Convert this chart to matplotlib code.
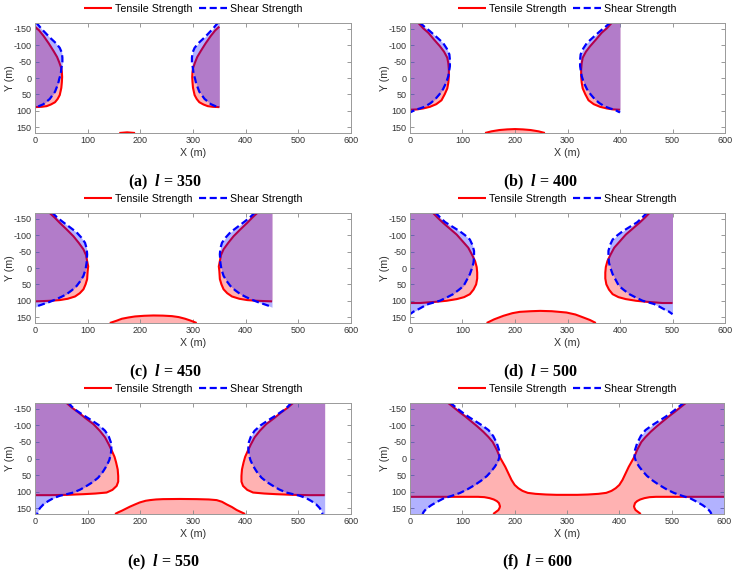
import numpy as np
import matplotlib
matplotlib.use("Agg")
import matplotlib.pyplot as plt

plt.rcParams["font.family"] = ["Liberation Sans", "DejaVu Sans"]
plt.rcParams["axes.unicode_minus"] = False
plt.rcParams["mathtext.fontset"] = "custom"
plt.rcParams["mathtext.it"] = "Liberation Serif:italic:bold"
plt.rcParams["mathtext.rm"] = "Liberation Serif:bold"

# tunnel spacing l (m) of each panel
widths = [350, 400, 450, 500, 550, 600]
labels = ["(a)", "(b)", "(c)", "(d)", "(e)", "(f)"]

# left failure boundaries (the right one is the mirror x -> l - x)
# (a) l = 350
tens_x_a = [0, 8, 16, 26, 35, 42, 46, 50, 51, 51.5, 51, 50, 47, 43, 38, 30, 22, 12, 0]
tens_y_a = [-157, -145, -129, -106, -83, -64, -48, -30, -18, -3, 12, 30, 52, 64, 74, 81, 86, 88, 89]
shear_x_a = [2, 13, 28, 40, 47, 51, 52, 52, 50, 49, 46, 44, 38, 28, 16, 6, 0]
shear_y_a = [-170, -149, -124, -106, -92, -77, -62, -48, -28, -13, 3, 17, 42, 64, 80, 87, 89]
bot_x_a = [160, 175, 190]
bot_y_a = [168, 166, 168]

# (b) l = 400
tens_x_b = [16, 25, 35, 46, 57, 65, 71, 73, 74, 74, 73, 71, 66, 60, 50, 38, 25, 13, 0]
tens_y_b = [-168, -152, -138, -117, -97, -80, -62, -45, -26, -5, 14, 32, 50, 68, 80, 88, 93, 96, 97]
shear_x_b = [18, 28, 38, 50, 63, 70, 75, 76, 76, 73, 69, 63, 56, 48, 39, 29, 19, 10, 3, 0]
shear_y_b = [-170, -156, -143, -126, -107, -90, -72, -55, -36, -6, 14, 34, 50, 65, 77, 87, 93, 97, 103, 105]
bot_x_b = [143, 155, 170, 185, 200, 215, 230, 245, 257]
bot_y_b = [168, 163, 159, 157, 156, 157, 159, 163, 168]

# (c) l = 450
tens_x_c = [28, 38, 47, 60, 73, 83, 92, 97, 99, 101, 100, 99, 96, 92, 85, 76, 62, 47, 30, 16, 0]
tens_y_c = [-168, -153, -138, -118, -97, -77, -57, -39, -21, -5, 9, 34, 50, 65, 77, 87, 94, 98, 100, 101, 102]
shear_x_c = [32, 41, 51, 65, 79, 88, 95, 98, 99, 98, 96, 92, 86, 79, 70, 60, 49, 38, 27, 16, 7, 0]
shear_y_c = [-170, -156, -143, -126, -109, -93, -77, -60, -42, -16, 4, 24, 40, 55, 68, 80, 89, 97, 104, 110, 115, 120]
bot_x_c = [142, 155, 165, 178, 190, 207, 225, 243, 260, 273, 285, 296, 307]
bot_y_c = [168, 161, 155, 151, 148, 146, 145, 145.5, 147, 150, 155, 161, 168]

# (d) l = 500
tens_x_d = [44, 53, 63, 76, 89, 100, 111, 118, 124, 127, 128, 128, 126, 121, 114, 103, 89, 70, 51, 35, 19, 0]
tens_y_d = [-168, -153, -138, -120, -102, -82, -62, -41, -21, -3, 14, 32, 50, 66, 80, 89, 95, 100, 103, 105, 107, 107]
shear_x_d = [48, 57, 67, 81, 95, 105, 114, 119, 122, 122, 121, 118, 114, 108, 102, 92, 82, 70, 57, 46, 35, 25, 16, 7, 0]
shear_y_d = [-170, -155, -140, -126, -112, -100, -87, -70, -52, -34, -16, 1, 19, 37, 55, 68, 80, 90, 100, 105, 110, 118, 126, 133, 141]
bot_x_d = [146, 160, 178, 195, 209, 230, 248, 270, 298, 315, 330, 343, 354]
bot_y_d = [168, 157, 146, 138, 134, 132, 131, 132, 136, 142, 151, 159, 168]

# (e) l = 550
tens_x_e = [60, 70, 82, 96, 111, 123, 133, 140, 146, 151, 154, 157, 158, 158, 155, 147, 136, 115, 92, 60, 28, 0]
tens_y_e = [-168, -154, -140, -122, -104, -84, -64, -43, -23, -5, 12, 33, 53, 70, 83, 95, 103, 106, 108, 110, 111, 111]
shear_x_e = [63, 70, 79, 93, 108, 122, 133, 140, 144, 145, 144, 141, 136, 129, 120, 110, 98, 86, 73, 60, 47, 35, 25, 16, 10, 6, 4]
shear_y_e = [-170, -157, -145, -130, -115, -100, -84, -67, -49, -31, -13, 5, 22, 40, 58, 71, 83, 94, 103, 108, 113, 120, 129, 139, 149, 158, 168]
bot_x_e = [152, 158, 165, 180, 190, 199, 210, 218, 230, 243, 275, 307, 330, 345, 355, 364, 374, 383, 391, 399]
bot_y_e = [168, 163, 158, 146, 139, 133, 128, 126, 124, 123, 122.5, 123, 124, 126, 131, 139, 147, 156, 162, 168]

# (f) l = 600 : tensile zones join in the middle
tens_up_x_f = [73, 84, 95, 105, 115, 128, 140, 150, 158, 166, 172, 177, 182, 188, 194, 200, 207, 215, 225, 240, 260, 280, 300]
tens_up_y_f = [-168, -154, -140, -128, -115, -98, -81, -65, -50, -26, -3, 11, 25, 45, 65, 80, 90, 98, 104, 107, 109, 110, 110]
tens_lo_x_f = [0, 60, 130, 142, 152, 160, 166, 170, 172, 171, 169, 164, 159]
tens_lo_y_f = [116, 116, 116, 117, 120, 124, 129, 135, 145, 150, 156, 162, 168]
shear_x_f = [76, 89, 102, 113, 124, 137, 150, 159, 166, 170, 171, 168, 162, 155, 147, 136, 124, 110, 96, 80, 64, 52, 41, 34, 29, 26, 24]
shear_y_f = [-170, -153, -137, -125, -114, -101, -86, -68, -46, -26, -5, 10, 25, 39, 53, 67, 80, 93, 104, 113, 121, 131, 141, 149, 156, 162, 168]

RED = "#ff0000"
BLUE = "#0000ff"
ALPHA = 0.3
Y_LIM = 168

W, H = 735, 574
boxes = [(35, 23, 316, 110), (410, 23, 315, 110),
         (35, 213, 316, 110), (410, 213, 315, 110),
         (35, 403, 316, 111), (410, 403, 314, 111)]
captions = [(165, 182), (540, 182), (165, 372), (540, 372), (163, 562), (537, 562)]

panels = [
    (tens_x_a, tens_y_a, shear_x_a, shear_y_a, bot_x_a, bot_y_a),
    (tens_x_b, tens_y_b, shear_x_b, shear_y_b, bot_x_b, bot_y_b),
    (tens_x_c, tens_y_c, shear_x_c, shear_y_c, bot_x_c, bot_y_c),
    (tens_x_d, tens_y_d, shear_x_d, shear_y_d, bot_x_d, bot_y_d),
    (tens_x_e, tens_y_e, shear_x_e, shear_y_e, bot_x_e, bot_y_e),
    None,
]

fig = plt.figure(figsize=(W / 100, H / 100), dpi=100)

# drawing order: red fill < red line < blue fill < blue dashed line
red_fill = dict(color=RED, alpha=ALPHA, lw=0, zorder=1)
red_kw = dict(color=RED, lw=1.5, solid_capstyle="butt", solid_joinstyle="round", zorder=2)
blue_fill = dict(color=BLUE, alpha=ALPHA, lw=0, zorder=3)
blue_kw = dict(color=BLUE, lw=1.6, linestyle=(0, (3.2, 1.6)), zorder=4)

for i, l in enumerate(widths):
    x0, y0, w, h = boxes[i]
    ax = fig.add_axes([x0 / W, 1 - (y0 + h) / H, w / W, h / H])

    if panels[i] is not None:
        tx, ty, sx, sy, bx, by = [np.asarray(v, float) for v in panels[i]]
        # tensile zones
        ax.fill_betweenx(ty, 0, tx, **red_fill)
        ax.fill_betweenx(ty, l - tx, l, **red_fill)
        ax.fill_between(bx, by, Y_LIM, **red_fill)
        h_t, = ax.plot(tx, ty, **red_kw)
        ax.plot(l - tx, ty, **red_kw)
        ax.plot(bx, by, **red_kw)
    else:
        ux, uy = np.asarray(tens_up_x_f, float), np.asarray(tens_up_y_f, float)
        lx, ly = np.asarray(tens_lo_x_f, float), np.asarray(tens_lo_y_f, float)
        sx, sy = np.asarray(shear_x_f, float), np.asarray(shear_y_f, float)
        top_x = np.concatenate([[0], ux, l - ux[::-1], [l]])
        top_y = np.concatenate([[-Y_LIM], uy, uy[::-1], [-Y_LIM]])
        poly_x = np.concatenate([top_x, l - lx, lx[::-1]])
        poly_y = np.concatenate([top_y, ly, ly[::-1]])
        ax.fill(poly_x, poly_y, **red_fill)
        h_t, = ax.plot(np.concatenate([ux, l - ux[::-1]]),
                       np.concatenate([uy, uy[::-1]]), **red_kw)
        ax.plot(lx, ly, **red_kw)
        ax.plot(l - lx, ly, **red_kw)

    # shear zones
    ax.fill_betweenx(sy, 0, sx, **blue_fill)
    ax.fill_betweenx(sy, l - sx, l, **blue_fill)
    h_s, = ax.plot(sx, sy, **blue_kw)
    ax.plot(l - sx, sy, **blue_kw)

    ax.set_xlim(0, 600)
    ax.set_ylim(Y_LIM, -Y_LIM)
    ax.set_xticks(range(0, 601, 100))
    ax.set_yticks(range(-150, 151, 50))
    ax.tick_params(direction="in", top=True, right=True, length=3, width=0.6,
                   colors="#888888", labelcolor="#333333", labelsize=6.5, pad=2.5)
    for sp in ax.spines.values():
        sp.set_color("#999999")
        sp.set_linewidth(0.7)
        sp.set_zorder(5)

    ax.set_xlabel("X (m)", fontsize=7.7, color="#333333")
    ax.set_ylabel("Y (m)", fontsize=7.7, color="#333333")
    ax.xaxis.set_label_coords(0.5, -15 / h)
    ax.yaxis.set_label_coords(-20 / w, 0.5)

    ax.legend([h_t, h_s], ["Tensile Strength", "Shear Strength"], loc="center",
              bbox_to_anchor=(0.5, 1 + 14 / h), ncol=2, frameon=False,
              fontsize=7.7, handlelength=2.6, handletextpad=0.3, columnspacing=0.6,
              borderaxespad=0)

    cx, cy = captions[i]
    fig.text(cx / W, 1 - cy / H, labels[i] + "  $l$ = " + str(l),
             family="Liberation Serif", weight="bold", fontsize=11.5,
             ha="center", va="center")

fig.savefig("out.png", dpi=100)
